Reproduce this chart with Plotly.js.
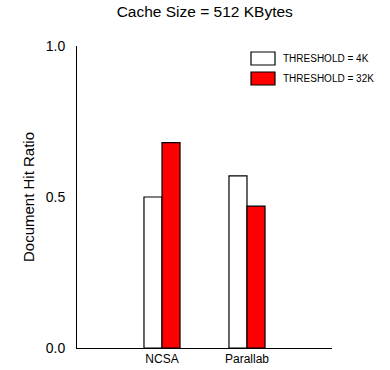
<!DOCTYPE html>
<html>
<head>
<meta charset="utf-8">
<script src="https://cdn.plot.ly/plotly-3.0.1.min.js"></script>
<style>html,body{margin:0;padding:0;background:#fff;}#chart{width:390px;height:370px;}</style>
</head>
<body>
<div id="chart"></div>
<script>
const categories = ["NCSA", "Parallab"];
const seriesNames = ["THRESHOLD = 4K", "THRESHOLD = 32K"];
const threshold4K = [0.50, 0.57];
const threshold32K = [0.68, 0.47];
const yTickValues = [0, 0.5, 1.0];
const yTickLabels = ["0.0", "0.5", "1.0"];

const FONT = "Liberation Sans, Arial, Helvetica, sans-serif";
const colors = ["#ffffff", "#ff0000"];
const seriesValues = [threshold4K, threshold32K];

const traces = seriesValues.map((vals, i) => ({
  type: "bar",
  x: categories,
  y: vals,
  name: seriesNames[i],
  marker: {color: colors[i], line: {color: "#000000", width: 1.2}},
  showlegend: false,
  hoverinfo: "skip"
}));

// legend drawn as boxes + text in paper coordinates
const shapes = [];
const annotations = [];
const legendTop = [52, 72];
seriesNames.forEach((name, i) => {
  const y0 = 1 - (legendTop[i] - 46) / 302;
  const y1 = 1 - (legendTop[i] + 13 - 46) / 302;
  shapes.push({
    type: "rect", xref: "paper", yref: "paper",
    x0: (251 - 77) / 255, x1: (275 - 77) / 255, y0: y1, y1: y0,
    fillcolor: colors[i], line: {color: "#000000", width: 1.2}
  });
  annotations.push({
    xref: "paper", yref: "paper",
    x: (281 - 77) / 255, y: (y0 + y1) / 2,
    xanchor: "left", yanchor: "middle", showarrow: false,
    text: name, font: {family: FONT, size: 10, color: "#000000"}
  });
});

const layout = {
  width: 390, height: 370,
  margin: {l: 77, r: 58, t: 46, b: 22, pad: 0},
  paper_bgcolor: "#ffffff", plot_bgcolor: "#ffffff",
  font: {family: FONT, color: "#000000"},
  title: {text: "Cache Size = 512 KBytes", font: {family: FONT, size: 15.5, color: "#000000"},
          x: 0.525, xanchor: "center", y: 0.968, yanchor: "middle"},
  barmode: "group", bargap: 0.576, bargroupgap: 0,
  xaxis: {
    type: "category", range: [-1, 2],
    showline: true, linecolor: "#000000", linewidth: 1,
    showgrid: false, zeroline: false, ticks: "",
    tickfont: {family: FONT, size: 12, color: "#000000"}
  },
  yaxis: {
    range: [0, 1], showline: true, linecolor: "#000000", linewidth: 1,
    showgrid: false, zeroline: false, ticks: "",
    tickvals: yTickValues, ticktext: yTickLabels,
    tickfont: {family: FONT, size: 14, color: "#000000"},
    ticklabelstandoff: 8,
    title: {text: "Document Hit Ratio", font: {family: FONT, size: 15, color: "#000000"}, standoff: 7}
  },
  shapes: shapes,
  annotations: annotations
};

Plotly.newPlot("chart", traces, layout, {staticPlot: true, displayModeBar: false});
</script>
</body>
</html>
